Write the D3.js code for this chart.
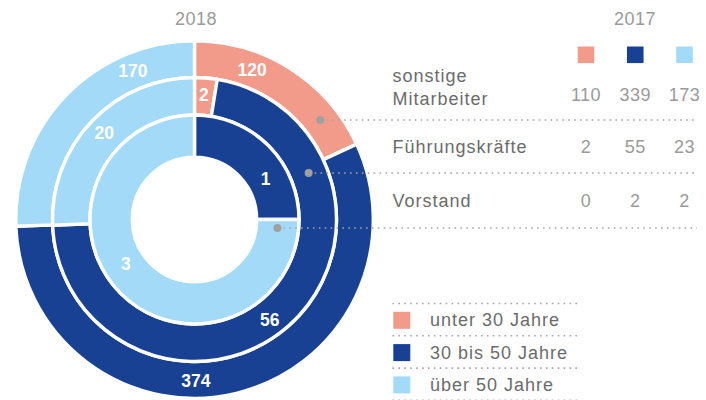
<!DOCTYPE html>
<html>
<head>
<meta charset="utf-8">
<script src="https://d3js.org/d3.v7.min.js"></script>
<style>
  body { margin: 0; background: white; }
  svg { font-family: 'Liberation Sans', Arial, sans-serif; }
  .lbl { fill: #6b6b6b; font-size: 18px; letter-spacing: 1px; }
  .num { fill: #9a9a9a; font-size: 18px; letter-spacing: 0.5px; text-anchor: middle; }
  .val { fill: white; font-size: 17.5px; font-weight: bold; text-anchor: middle; }
  .dots { stroke: #a5a5a5; stroke-width: 1.6; stroke-dasharray: 1.6 4.3; fill: none; }
</style>
</head>
<body>
<svg id="chart" width="706" height="400"></svg>
<script>
// data
var ageGroups = ["unter 30 Jahre", "30 bis 50 Jahre", "über 50 Jahre"];
var roles = ["sonstige\nMitarbeiter", "Führungskräfte", "Vorstand"];
var sonstige2018 = [120, 374, 170];
var fuehrung2018 = [2, 56, 20];
var vorstand2018 = [0, 1, 3];
var sonstige2017 = [110, 339, 173];
var fuehrung2017 = [2, 55, 23];
var vorstand2017 = [0, 2, 2];

var colors = ["#f39b8b", "#184093", "#a3daf7"];

var svg = d3.select("#chart");
var cx = 194.5, cy = 219.5;

// rings: outer = sonstige, middle = Führungskräfte, inner = Vorstand
var rings = [
  { values: sonstige2018, r0: 142, r1: 178.8, labelR: 161, labelAngles: [21, 179.5, -22.5] },
  { values: fuehrung2018, r0: 104.5, r1: 142, labelR: 125, labelAngles: [4.3, 143, 313.8] },
  { values: vorstand2018, r0: 62.2, r1: 104.5, labelR: 82, labelAngles: [null, 60, 237] }
];

var pie = d3.pie().sort(null).value(function (d) { return d; });
var g = svg.append("g").attr("transform", "translate(" + cx + "," + cy + ")");

rings.forEach(function (ring) {
  var arc = d3.arc().innerRadius(ring.r0).outerRadius(ring.r1);
  g.append("g").selectAll("path")
    .data(pie(ring.values))
    .enter().append("path")
    .attr("d", arc)
    .attr("fill", function (d, i) { return colors[i]; })
    .attr("stroke", "white")
    .attr("stroke-width", 3.4);

  g.append("g").selectAll("text")
    .data(ring.values)
    .enter().filter(function (d) { return d > 0; })
    .append("text")
    .attr("class", "val")
    .attr("x", function (d) { return ring.labelR * Math.sin(ring.labelAngles[ring.values.indexOf(d)] * Math.PI / 180); })
    .attr("y", function (d) { return -ring.labelR * Math.cos(ring.labelAngles[ring.values.indexOf(d)] * Math.PI / 180); })
    .attr("dy", "0.36em")
    .text(function (d) { return d; });
});

svg.append("text").attr("class", "num").attr("x", 196).attr("y", 25).text("2018");

// table 2017
var colX = d3.scalePoint().domain(ageGroups).range([586, 684.5]);
var rowLine = [120, 173, 228];
var rowBase = [101, 152.7, 206.7];
var data2017 = [sonstige2017, fuehrung2017, vorstand2017];

svg.append("text").attr("class", "num").attr("x", 635).attr("y", 25).text("2017");

svg.selectAll(".sq")
  .data(ageGroups)
  .enter().append("rect")
  .attr("x", function (d) { return colX(d) - 8.3; })
  .attr("y", 46.5)
  .attr("width", 16.6)
  .attr("height", 16.6)
  .attr("fill", function (d, i) { return colors[i]; });

roles.forEach(function (role, ri) {
  var lines = role.split("\n");
  var t = svg.append("text").attr("class", "lbl").attr("x", 392.5);
  if (lines.length > 1) {
    t.attr("y", rowBase[ri] - 19.5);
    t.append("tspan").attr("x", 392.5).text(lines[0]);
    t.append("tspan").attr("x", 392.5).attr("dy", 23).text(lines[1]);
  } else {
    t.attr("y", rowBase[ri]).text(role);
  }
  svg.append("g").selectAll("text")
    .data(data2017[ri])
    .enter().append("text")
    .attr("class", "num")
    .attr("x", function (d, i) { return colX(ageGroups[i]); })
    .attr("y", rowBase[ri])
    .text(function (d) { return d; });

  // leader line from ring to table
  var ring = rings[ri];
  var rm = (ring.r0 + ring.r1) / 2;
  var dy = rowLine[ri] - cy;
  var dotX = cx + Math.sqrt(rm * rm - dy * dy);
  svg.append("line").attr("class", "dots")
    .attr("x1", dotX + 6).attr("x2", 697)
    .attr("y1", rowLine[ri]).attr("y2", rowLine[ri]);
  svg.append("circle").attr("cx", dotX).attr("cy", rowLine[ri]).attr("r", 4).attr("fill", "#a0a0a0");
});

// legend
var legY = d3.scaleLinear().domain([0, 1]).range([303.5, 335.8]);
[0, 1, 2, 3].forEach(function (i) {
  svg.append("line").attr("class", "dots")
    .attr("x1", 392.5).attr("x2", 581)
    .attr("y1", legY(i)).attr("y2", legY(i));
});
ageGroups.forEach(function (a, i) {
  svg.append("rect")
    .attr("x", 393.3).attr("y", legY(i) + 8.3)
    .attr("width", 17).attr("height", 17)
    .attr("fill", colors[i]);
  svg.append("text").attr("class", "lbl")
    .attr("x", 430).attr("y", legY(i) + 22.7)
    .text(a);
});
</script>
</body>
</html>
